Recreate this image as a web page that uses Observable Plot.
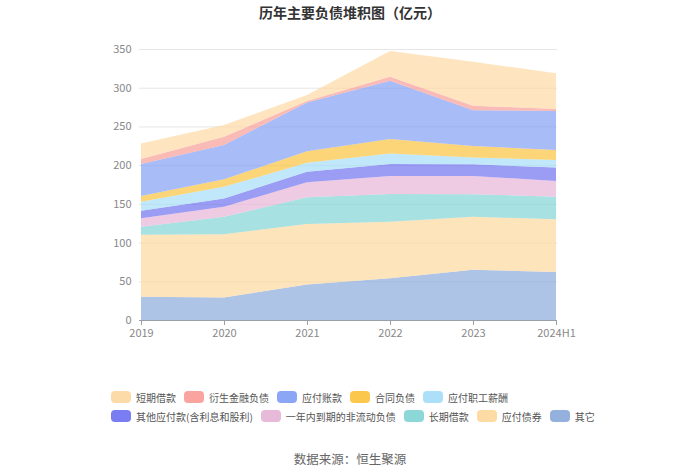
<!DOCTYPE html>
<html>
<head>
<meta charset="utf-8">
<script src="https://cdn.jsdelivr.net/npm/d3@7"></script>
<script src="https://cdn.jsdelivr.net/npm/@observablehq/plot@0.6"></script>
<style>
  html, body { margin: 0; padding: 0; background: #fff; }
  body { width: 700px; height: 474px; position: relative; overflow: hidden; font-family: "Noto Sans CJK SC", "Noto Sans", sans-serif; }
  #title { position: absolute; top: 2px; left: 0; width: 700px; text-align: center; font-size: 14px; font-weight: bold; color: #333; }
  #chart { position: absolute; top: 0; left: 0; }
  .lrow { position: absolute; left: 111px; display: flex; flex-wrap: nowrap; white-space: nowrap; font-size: 10px; color: #555; }
  .item { display: flex; align-items: center; margin-right: 8px; height: 16px; }
  .sw { width: 20px; height: 12px; border-radius: 4px; margin-right: 5px; }
  #caption { position: absolute; top: 449px; left: 0; width: 700px; text-align: center; font-size: 12.5px; color: #666; }
</style>
</head>
<body>
<div id="chart"></div>
<div id="title">历年主要负债堆积图（亿元）</div>
<div id="row1" class="lrow" style="top:389px"></div>
<div id="row2" class="lrow" style="top:408px"></div>
<div id="caption">数据来源：恒生聚源</div>
<script>
const years = ["2019", "2020", "2021", "2022", "2023", "2024H1"];
// series listed bottom to top of the stack
const seriesNames = ["其它", "应付债券", "长期借款", "一年内到期的非流动负债", "其他应付款(含利息和股利)", "应付职工薪酬", "合同负债", "应付账款", "衍生金融负债", "短期借款"];
const qita = [30, 29, 46, 54, 65, 62];
const yingfuZhaiquan = [80, 81.6, 78, 73, 68.4, 68];
const changqiJiekuan = [10.5, 22.8, 34.4, 35.7, 28.9, 29.3];
const yinianDaoqi = [10.8, 12.9, 19.4, 23.3, 23.7, 20.2];
const qitaYingfu = [9.7, 10.7, 13.7, 15.5, 15, 17.5];
const zhigongXinchou = [11.8, 15, 11.5, 13.5, 9, 9.6];
const hetongFuzhai = [7.2, 9.7, 15, 18.8, 14.7, 12.9];
const yingfuZhangkuan = [41.5, 44.3, 63, 75.2, 46.3, 50.5];
const yanshengJinrong = [6.5, 10.7, 2, 5, 5.8, 2.5];
const duanqiJiekuan = [20, 15.1, 7.6, 33.4, 56.8, 46.1];
const seriesValues = [qita, yingfuZhaiquan, changqiJiekuan, yinianDaoqi, qitaYingfu, zhigongXinchou, hetongFuzhai, yingfuZhangkuan, yanshengJinrong, duanqiJiekuan];
const seriesColors = ["#88a8da", "#fdd79b", "#7fd3d3", "#e6b3d6", "#6b6ef0", "#a3ddf8", "#fbc13a", "#7f9cf5", "#f89a94", "#fdd7a0"];
const legendRow1 = ["短期借款", "衍生金融负债", "应付账款", "合同负债", "应付职工薪酬"];
const legendRow2 = ["其他应付款(含利息和股利)", "一年内到期的非流动负债", "长期借款", "应付债券", "其它"];
const yTicks = [0, 50, 100, 150, 200, 250, 300, 350];

const data = [];
seriesNames.forEach((name, i) => {
  years.forEach((yr, j) => data.push({series: name, year: yr, value: seriesValues[i][j]}));
});

const chart = Plot.plot({
  width: 700,
  height: 474,
  marginLeft: 139,
  marginRight: 143,
  marginTop: 49,
  marginBottom: 154,
  style: {fontFamily: '"Noto Sans CJK SC", "Noto Sans", sans-serif', fontSize: "11px", color: "#777", background: "transparent"},
  x: {type: "point", domain: years, padding: 0, label: null},
  y: {domain: [0, 350], label: null},
  color: {domain: seriesNames, range: seriesColors},
  marks: [
    Plot.gridY(yTicks, {stroke: "#e6e6e6", strokeOpacity: 1}),
    Plot.areaY(data, {x: "year", y: "value", z: "series", fill: "series", fillOpacity: 0.68, order: seriesNames}),
    Plot.ruleY([0], {stroke: "#9aa0aa"}),
    Plot.axisY(yTicks, {tickSize: 0, tickPadding: 8, label: null, fill: "#888"}),
    Plot.axisX({tickSize: 5, tickPadding: 4, stroke: "#9aa0aa", fill: "#888", label: null})
  ]
});
document.getElementById("chart").appendChild(chart);

function fillRow(id, names) {
  const row = document.getElementById(id);
  names.forEach(name => {
    const idx = seriesNames.indexOf(name);
    const item = document.createElement("div");
    item.className = "item";
    const sw = document.createElement("div");
    sw.className = "sw";
    sw.style.background = seriesColors[idx];
    sw.style.opacity = 0.9;
    const t = document.createElement("span");
    t.textContent = name;
    item.appendChild(sw);
    item.appendChild(t);
    row.appendChild(item);
  });
}
fillRow("row1", legendRow1);
fillRow("row2", legendRow2);
</script>
</body>
</html>
